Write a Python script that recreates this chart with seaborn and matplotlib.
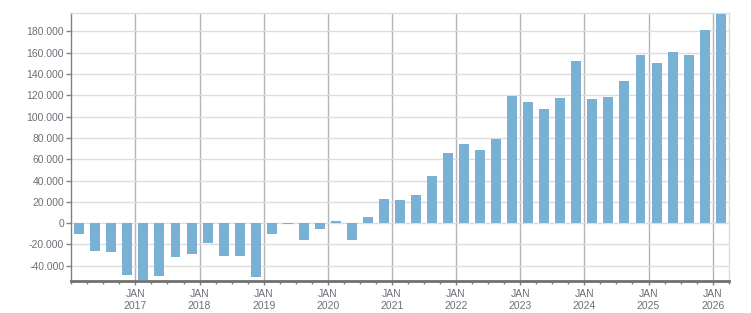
import pandas as pd
import seaborn as sns
import matplotlib.pyplot as plt
from matplotlib.ticker import FixedLocator, FuncFormatter

sns.set_theme(style="white")
plt.rcParams["font.family"] = ["Liberation Sans", "DejaVu Sans"]

# quarterly values, 2016 Q1 .. 2026 Q1
quarters = [str(p) for p in pd.period_range("2016Q1", "2026Q1", freq="Q")]
values = [
    -10600, -25700, -27500, -48200,
    -53200, -49500, -31300, -29400,
    -18200, -30400, -30400, -50100,
    -10000, -600, -15700, -5300,
    2200, -15700, 5900, 22900,
    21900, 26600, 44500, 66100,
    74500, 68900, 79200, 119600,
    114000, 107400, 117700, 152500,
    116800, 118700, 133700, 158100,
    150600, 160900, 158100, 181600,
    196600,
]
year_labels = [f"JAN\n{y}" for y in range(2017, 2027)]

df = pd.DataFrame({"quarter": quarters, "value": values})

bar_color = "#78b1d3"
text_color = "#6e6e78"

fig = plt.figure(figsize=(7.51, 3.13), dpi=100)
ax = fig.add_axes([0.0949, 0.1032, 0.8754, 0.8543])

sns.barplot(data=df, x="quarter", y="value", color=bar_color, width=0.62,
            saturation=1, edgecolor="none", linewidth=0, ax=ax, zorder=3)

ax.set_xlim(-0.5, len(quarters) - 0.5)
ax.set_ylim(-54000, 197000)

# year ticks at the start of each Q1 (bar index - 0.5)
major_pos = [quarters.index(f"{y}Q1") - 0.5 for y in range(2017, 2027)]
minor_pos = [i - 0.5 for i in range(len(quarters) + 1)]
ax.xaxis.set_major_locator(FixedLocator(major_pos))
ax.xaxis.set_minor_locator(FixedLocator(minor_pos))
ax.set_xticklabels(year_labels)

ax.set_yticks(range(-40000, 180001, 20000))
ax.yaxis.set_major_formatter(
    FuncFormatter(lambda v, _: f"{v:,.0f}".replace(",", ".").replace("\u2212", "-"))
)

ax.set_xlabel("")
ax.set_ylabel("")

ax.grid(axis="y", color="#dddddd", linewidth=1, zorder=0)
ax.grid(axis="x", which="major", color="#b4b4b4", linewidth=1, zorder=0)
ax.set_axisbelow(True)

ax.tick_params(axis="y", which="major", length=3.6, width=1, color="#808080",
               pad=1.5, labelsize=7.5, labelcolor=text_color, left=True)
ax.tick_params(axis="x", which="major", length=3, width=1, color="#808080",
               pad=3, labelsize=7.5, labelcolor=text_color, bottom=True)
ax.tick_params(axis="x", which="minor", length=2.5, width=1, color="#808080",
               bottom=True)

for side in ["top", "right"]:
    ax.spines[side].set_color("#dddddd")
    ax.spines[side].set_linewidth(1)
ax.spines["left"].set_color("#808080")
ax.spines["left"].set_linewidth(1)
ax.spines["bottom"].set_color("#707070")
ax.spines["bottom"].set_linewidth(2)

fig.savefig("out.png", dpi=100)
